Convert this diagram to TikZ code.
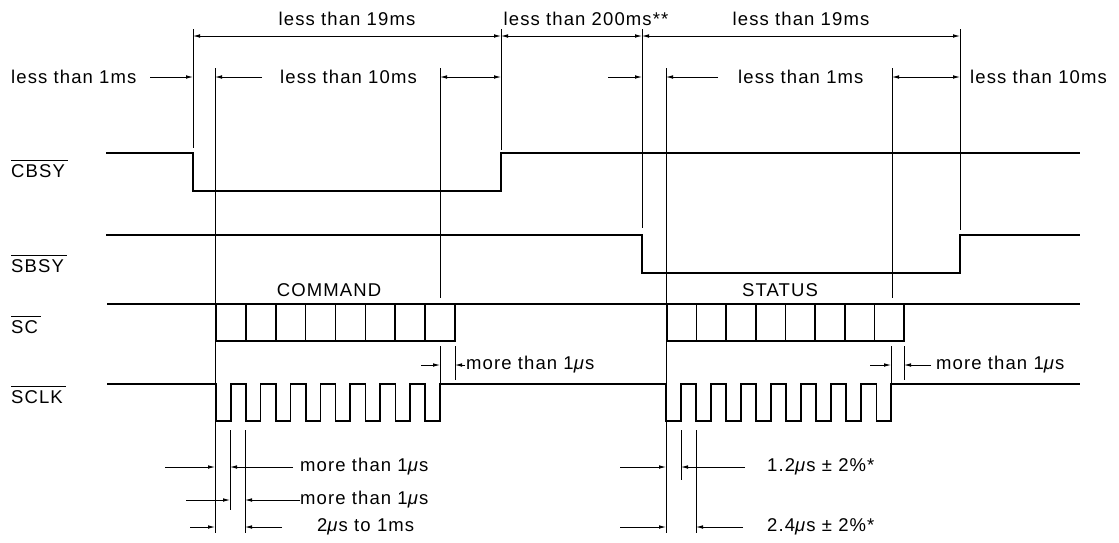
\documentclass[tikz,border=0pt]{standalone}
\usepackage{fontspec}
\setmainfont{Liberation Sans}[LetterSpace=6]
\usetikzlibrary{arrows.meta}
\newcommand\usec{\textit{μ}s}
\tikzset{
  sig/.style={line width=1.7pt, line join=miter},
  ext/.style={line width=0.9pt},
  dim/.style={line width=0.8pt},
  ovline/.style={line width=1pt},
  tip/.style={dim,-{Latex[length=7pt,width=3.6pt]}},
  dtip/.style={dim,{Latex[length=7pt,width=3.6pt]}-{Latex[length=7pt,width=3.6pt]}},
  lbl/.style={font=\fontsize{18.5}{22}\selectfont, inner sep=0pt},
  sname/.style={lbl, anchor=west, inner ysep=3.5pt},
}
\begin{document}
\begin{tikzpicture}[x=1pt,y=-1pt]
\useasboundingbox (0,0) rectangle (1119,542);

% extension lines
\draw[ext] (193,29) -- (193,148);
\draw[ext] (501,29) -- (501,150);
\draw[ext] (642,29) -- (642,228);
\draw[ext] (960,29) -- (960,230);
\draw[ext] (215,68) -- (215,533);
\draw[ext] (440,68) -- (440,298);
\draw[ext] (666,68) -- (666,533);
\draw[ext] (892,68) -- (892,298);
\draw[ext] (440,346) -- (440,384);
\draw[ext] (455,346) -- (455,380);
\draw[ext] (891,346) -- (891,384);
\draw[ext] (904,346) -- (904,380);
\draw[ext] (230,430) -- (230,510);
\draw[ext] (245,430) -- (245,533);
\draw[ext] (681,430) -- (681,480);
\draw[ext] (696,430) -- (696,533);

% signals
\draw[sig] (106,153) -- (193,153) -- (193,191) -- (501,191) -- (501,153) -- (1080,153);
\draw[sig] (106,235) -- (642,235) -- (642,273) -- (960,273) -- (960,235) -- (1080,235);
\draw[sig] (107,304) -- (1080,304);
\draw[sig] (216,304) rectangle (455,341);
\foreach \k in {1,...,7} \draw[sig] ({216+29.875*\k},304) -- ({216+29.875*\k},341);
\draw[sig] (667,304) rectangle (904,341);
\foreach \k in {1,...,7} \draw[sig] ({667+29.625*\k},304) -- ({667+29.625*\k},341);
\draw[sig] (107,384)
  foreach \k in {0,...,7} { -- ({216+29.9*\k},384) -- ({216+29.9*\k},421) -- ({230.7+29.9*\k},421) -- ({230.7+29.9*\k},384) }
  foreach \k in {0,...,7} { -- ({666+30.05*\k},384) -- ({666+30.05*\k},421) -- ({680.65+30.05*\k},421) -- ({680.65+30.05*\k},384) }
  -- (1080,384);

% signal names with overlines
\node[sname] (ncbsy) at (11,171) {CBSY};
\node[sname] (nsbsy) at (11,266) {SBSY};
\node[sname] (nsc) at (11,327) {SC};
\node[sname] (nsclk) at (11,397) {SCLK};
\foreach \n in {ncbsy,nsbsy,nsc,nsclk}
  \draw[ovline] (\n.north west) -- ([xshift=3pt]\n.north east);
\node[lbl] (ncmd) at (329,290) {COMMAND};
\node[lbl] (nstat) at (780,290) {STATUS};

% top dimensions
\draw[dtip] (193,36) -- (501,36);
\draw[dtip] (501,36) -- (642,36);
\draw[dtip] (642,36) -- (960,36);
\node[lbl] (t1) at (347,19) {less than 19ms};
\node[lbl] (t2) at (586,19) {less than 200ms**};
\node[lbl] (t3) at (801,19) {less than 19ms};

% second row
\node[lbl, anchor=west] (r1) at (11,77) {less than 1ms};
\draw[tip] (150,77) -- (193,77);
\draw[tip] (262,77) -- (215,77);
\node[lbl, anchor=west] (r2) at (280,77) {less than 10ms};
\draw[dtip] (440,77) -- (501,77);
\draw[tip] (608,77) -- (642,77);
\draw[tip] (718,77) -- (666,77);
\node[lbl, anchor=west] (r3) at (738,77) {less than 1ms};
\draw[dtip] (892,77) -- (960,77);
\node[lbl, anchor=west] (r4) at (970,77) {less than 10ms};

% more than 1us between SC and SCLK
\draw[tip] (421,365) -- (440,365);
\draw[tip] (465,365) -- (455,365);
\node[lbl, anchor=west] (m1) at (466,365) {more than 1\usec};
\draw[tip] (870,365) -- (891,365);
\draw[tip] (931,365) -- (904,365);
\node[lbl, anchor=west] (m2) at (936,365) {more than 1\usec};

% bottom left
\draw[tip] (165,467) -- (215,467);
\draw[tip] (293,467) -- (230,467);
\node[lbl, anchor=west] (b1) at (300,467) {more than 1\usec};
\draw[tip] (186,500) -- (230,500);
\draw[tip] (300,500) -- (245,500);
\node[lbl, anchor=west] (b2) at (300,500) {more than 1\usec};
\draw[tip] (190,527) -- (215,527);
\draw[tip] (282,527) -- (245,527);
\node[lbl, anchor=west] (b3) at (317,527) {2\usec\ to 1ms};

% bottom right
\draw[tip] (620,467) -- (666,467);
\draw[tip] (745,467) -- (681,467);
\node[lbl, anchor=west] (b4) at (767,467) {1.2\usec\ ± 2\%*};
\draw[tip] (620,527) -- (666,527);
\draw[tip] (743,527) -- (696,527);
\node[lbl, anchor=west] (b5) at (767,527) {2.4\usec\ ± 2\%*};
\end{tikzpicture}
\end{document}
